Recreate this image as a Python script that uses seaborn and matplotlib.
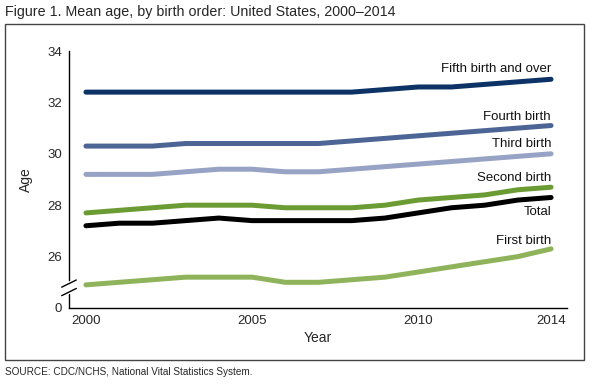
import numpy as np
import pandas as pd
import matplotlib
matplotlib.use("Agg")
import matplotlib.pyplot as plt
import matplotlib.patches as mpatches
import seaborn as sns

# Data (mean age of mother, by birth order)
years = list(range(2000, 2015))
fifth = [32.4, 32.4, 32.4, 32.4, 32.4, 32.4, 32.4, 32.4, 32.4, 32.5, 32.6, 32.6, 32.7, 32.8, 32.9]
fourth = [30.3, 30.3, 30.3, 30.4, 30.4, 30.4, 30.4, 30.4, 30.5, 30.6, 30.7, 30.8, 30.9, 31.0, 31.1]
third = [29.2, 29.2, 29.2, 29.3, 29.4, 29.4, 29.3, 29.3, 29.4, 29.5, 29.6, 29.7, 29.8, 29.9, 30.0]
second = [27.7, 27.8, 27.9, 28.0, 28.0, 28.0, 27.9, 27.9, 27.9, 28.0, 28.2, 28.3, 28.4, 28.6, 28.7]
total = [27.2, 27.3, 27.3, 27.4, 27.5, 27.4, 27.4, 27.4, 27.4, 27.5, 27.7, 27.9, 28.0, 28.2, 28.3]
first = [24.9, 25.0, 25.1, 25.2, 25.2, 25.2, 25.0, 25.0, 25.1, 25.2, 25.4, 25.6, 25.8, 26.0, 26.3]

series_names = ["Fifth birth and over", "Fourth birth", "Third birth", "Second birth", "Total", "First birth"]
series_values = [fifth, fourth, third, second, total, first]

ytick_vals = [24, 26, 28, 30, 32, 34]
ytick_labels = ["0", "26", "28", "30", "32", "34"]
xtick_vals = [2000, 2005, 2010, 2014]

PALETTE = {
    "Fifth birth and over": "#0d3366",
    "Fourth birth": "#4c6594",
    "Third birth": "#97a3c5",
    "Second birth": "#6b9b33",
    "Total": "#000000",
    "First birth": "#8fb35a",
}

df = pd.DataFrame({
    "Year": np.tile(years, len(series_names)),
    "Age": np.concatenate(series_values),
    "series": np.repeat(series_names, len(years)),
})

sns.set_style("white")
plt.rcParams["font.family"] = ["Liberation Sans", "DejaVu Sans"]

fig = plt.figure(figsize=(5.97, 3.84), dpi=100)
ax = fig.add_axes([69 / 597, 1 - 308 / 384, 498 / 597, 257 / 384])

sns.lineplot(data=df, x="Year", y="Age", hue="series", palette=PALETTE,
             hue_order=series_names, linewidth=3.6, legend=False, ax=ax)

ax.set_xlim(1999.49, 2014.48)
ax.set_ylim(24, 34)
ax.set_yticks(ytick_vals)
ax.set_yticklabels(ytick_labels)
ax.set_xticks(xtick_vals)
ax.tick_params(direction="in", length=5, width=1, color="black", labelsize=9.5, pad=5)
ax.set_xlabel("Year", fontsize=10, labelpad=3)
ax.set_ylabel("Age", fontsize=10, labelpad=10)

for side in ["top", "right"]:
    ax.spines[side].set_visible(False)
for side in ["left", "bottom"]:
    ax.spines[side].set_color("black")
    ax.spines[side].set_linewidth(1)

# axis break on the y-axis
ax.spines["left"].set_bounds(25.1, 34)
ax.plot([1999.49, 1999.49], [24, 24.55], color="black", lw=1, clip_on=False)
dx = 0.22
for yb in [24.62, 24.95]:
    ax.plot([1999.49 - dx, 1999.49 + dx], [yb - 0.14, yb + 0.14], color="black", lw=1, clip_on=False)

# line labels at the right end
label_y = {
    "Fifth birth and over": 33.3,
    "Fourth birth": 31.43,
    "Third birth": 30.38,
    "Second birth": 29.06,
    "Total": 27.74,
    "First birth": 26.6,
}
for name, yl in label_y.items():
    ax.text(2014, yl, name, ha="right", va="center", fontsize=9.5, color="#111111")

# figure frame, title and source
fig.patches.append(mpatches.Rectangle((5 / 597, 1 - 360 / 384), 579 / 597, 336 / 384,
                                      transform=fig.transFigure, fill=False,
                                      edgecolor="#444444", lw=1))
fig.text(5 / 597, 1 - 12 / 384, "Figure 1. Mean age, by birth order: United States, 2000\u20132014",
         ha="left", va="center", fontsize=10.3)
fig.text(5 / 597, 1 - 372 / 384, "SOURCE: CDC/NCHS, National Vital Statistics System.",
         ha="left", va="center", fontsize=7.2)

fig.savefig("out.png", dpi=100)
